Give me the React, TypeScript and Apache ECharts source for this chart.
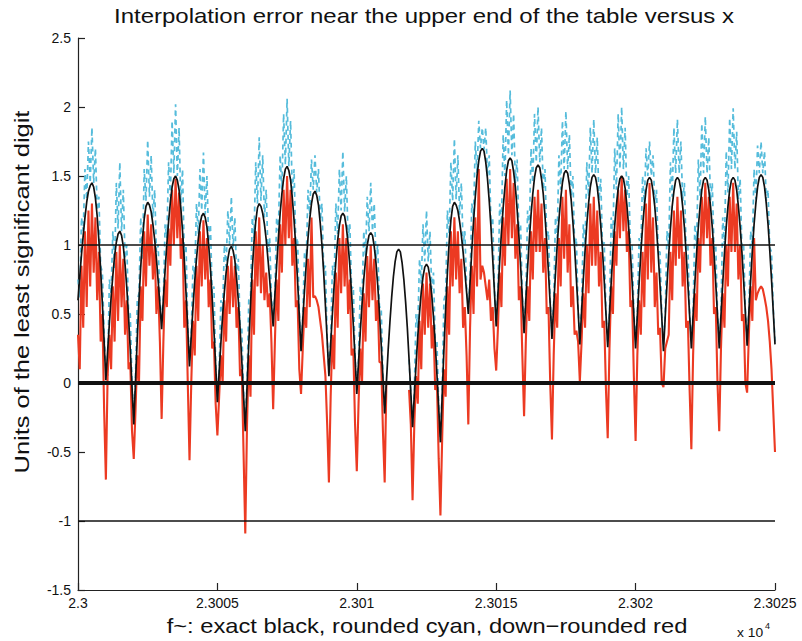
import { useEffect, useRef } from 'react';
import * as echarts from 'echarts';

const X_MIN = 2.3;
const X_MAX = 2.3025;
const X_STEP = 0.0005;
const xTickLabels = ['2.3', '2.3005', '2.301', '2.3015', '2.302', '2.3025'];
const yTicks = { min: -1.5, max: 2.5, interval: 0.5 };

const titleText = 'Interpolation error near the upper end of the table versus x';
const xLabelText = 'f~: exact black, rounded cyan, down\u2212rounded red';
const yLabelText = 'Units of the least significant digit';
const xScaleText = 'x 10';
const xScaleExp = '4';

const _ = null;

// 16 samples per period, 25 periods, last value at the right end
const blackVals = [
  .60,.77,.93,1.07,1.20,1.31,1.39,1.43,1.45,1.42,1.34,1.21,1.03,.82,.57,.30,
  .02,.23,.43,.62,.78,.92,1.02,1.08,1.10,1.07,.99,.86,.69,.48,.24,-.03,
  -.30,.01,.32,.60,.84,1.04,1.19,1.28,1.31,1.29,1.24,1.15,1.04,.90,.74,.57,
  .39,.61,.82,1.01,1.17,1.31,1.42,1.48,1.50,1.47,1.40,1.27,1.10,.89,.65,.39,
  .12,.34,.55,.74,.90,1.04,1.15,1.21,1.23,1.20,1.13,1.00,.83,.62,.38,.13,
  -.14,.08,.29,.49,.66,.80,.90,.97,.99,.96,.89,.76,.60,.40,.16,-.09,
  -.35,-.03,.28,.57,.82,1.02,1.17,1.27,1.30,1.28,1.23,1.15,1.04,.90,.75,.58,
  .41,.64,.85,1.05,1.23,1.37,1.48,1.55,1.57,1.54,1.47,1.34,1.18,.98,.74,.49,
  .23,.46,.67,.87,1.05,1.19,1.30,1.37,1.39,1.36,1.29,1.16,1.00,.80,.56,.31,
  .05,.28,.50,.71,.88,1.03,1.14,1.21,1.23,1.21,1.13,1.01,.85,.65,.42,.18,
  -.08,.15,.37,.57,.75,.89,1.00,1.07,1.09,1.07,.99,.87,.71,.51,.28,.04,
  -.22,.01,.24,.44,.62,.77,.88,.95,.97,.95,.87,.75,.59,.40,.17,-.07,
  -.32,-.09,.13,.34,.51,.66,.77,.84,.86,.84,.76,.64,.48,.29,.06,-.18,
  -.43,-.09,.24,.54,.80,1.02,1.18,1.28,1.31,1.29,1.25,1.17,1.07,.95,.81,.66,
  .50,.73,.96,1.17,1.35,1.50,1.61,1.68,1.70,1.68,1.60,1.48,1.32,1.13,.90,.66,
  .41,.65,.88,1.09,1.27,1.42,1.54,1.61,1.63,1.61,1.53,1.42,1.26,1.07,.85,.61,
  .36,.60,.83,1.04,1.22,1.37,1.49,1.56,1.58,1.56,1.48,1.37,1.21,1.02,.80,.57,
  .32,.56,.79,1.00,1.18,1.33,1.45,1.52,1.54,1.52,1.44,1.33,1.17,.98,.76,.53,
  .28,.52,.75,.96,1.15,1.30,1.42,1.49,1.51,1.49,1.42,1.30,1.14,.96,.74,.50,
  .26,.50,.73,.95,1.14,1.29,1.41,1.48,1.50,1.48,1.41,1.29,1.13,.95,.73,.49,
  .25,.49,.72,.94,1.13,1.28,1.40,1.47,1.49,1.47,1.39,1.28,1.12,.93,.71,.48,
  .23,.48,.71,.93,1.12,1.28,1.39,1.47,1.49,1.47,1.40,1.28,1.13,.94,.72,.49,
  .25,.49,.72,.94,1.13,1.28,1.40,1.47,1.49,1.47,1.40,1.28,1.13,.94,.72,.49,
  .25,.49,.72,.94,1.13,1.28,1.40,1.47,1.49,1.47,1.40,1.28,1.13,.95,.74,.51,
  .27,.51,.74,.96,1.15,1.30,1.42,1.49,1.51,1.49,1.42,1.30,1.15,.96,.75,.52,
  .28,
];

// null = coincides with the exact curve (hidden under black)
const redVals = [
  .35,.10,.85,.40,1.10,.55,1.25,.70,1.30,.80,1.20,.60,.95,.30,.50,-.20,
  -.70,.05,.35,.10,.70,.30,.95,.45,1.00,.55,.90,.35,.60,.10,.15,-.35,
  -.55,-.20,.20,.00,.70,.45,1.10,.70,1.22,.85,1.15,.75,1.00,.50,.70,.30,
  -.26,.30,.75,.55,1.12,.85,1.40,1.00,1.48,1.05,1.38,.90,1.05,.40,.60,.00,
  -.56,.00,.45,.20,.85,.45,1.10,.70,1.18,.75,1.05,.55,.75,.25,.30,-.15,
  -.38,-.10,.20,.00,.60,.30,.85,.50,.92,.55,.85,.40,.55,.05,.10,-.50,
  -1.09,-.30,.20,-.10,.75,.35,1.10,.70,1.20,.65,1.00,.60,.80,.55,.65,.30,
  -.19,.30,.75,.45,1.15,.80,1.40,1.00,1.50,1.05,1.40,.85,1.05,.55,.60,.10,
  -.08,.25,.55,.40,.90,.55,1.20,.62,.63,.60,.55,.45,.35,.20,.05,-.30,
  -.72,-.10,.35,.10,.80,.40,1.05,.65,1.15,.70,1.05,.50,.75,.20,.25,-.30,
  -.64,-.15,.25,.00,.65,.30,.92,.55,1.00,.60,.90,.45,.60,.15,.15,-.35,
  -.72,.01,_,_,_,_,_,_,_,_,_,_,_,_,-.05,-.30,
  -.85,-.30,.05,-.15,.45,.10,.72,.35,.80,.40,.72,.25,.42,-.05,.00,-.55,
  -.96,-.40,.10,-.10,.70,.35,1.10,.70,1.20,.75,1.10,.65,.90,.40,.55,.20,
  -.30,.40,.85,.50,1.20,.70,1.55,.75,.85,.80,.70,.60,.75,.45,.55,.25,
  .09,.40,.80,.55,1.20,.85,1.48,1.00,1.55,1.05,1.45,.90,1.15,.60,.70,.20,
  -.24,.30,.70,.45,1.10,.75,1.35,.95,1.40,.95,1.30,.80,1.05,.50,.55,.00,
  -.41,.20,.65,.40,1.05,.70,1.35,.90,1.40,.80,1.15,.55,.70,.35,.38,.30,
  .01,.30,.65,.40,1.00,.65,1.30,.85,1.35,.85,1.25,.70,.95,.40,.45,-.05,
  -.40,.25,.70,.50,1.10,.85,1.40,1.05,1.50,1.10,1.40,.95,1.10,.55,.60,.05,
  -.42,.20,.60,.35,.95,.55,1.30,.75,1.45,.80,1.20,.55,.80,.35,.40,.00,
  -.03,.25,.30,.35,.95,.60,1.25,.85,1.35,.90,1.25,.70,.95,.40,.45,-.05,
  -.48,.20,.65,.45,1.05,.80,1.35,1.00,1.45,1.05,1.35,.85,1.05,.50,.55,.00,
  -.35,.25,.65,.40,1.00,.70,1.35,.95,1.45,.95,1.30,.75,1.00,.45,.50,.00,
  -.07,.35,.70,.45,1.05,.60,.65,.68,.70,.68,.62,.55,.45,.30,.10,-.20,
  -.50,
];

const cyanVals = [
  .75,.62,1.20,1.10,1.55,1.33,1.75,1.45,1.85,1.45,1.70,1.25,1.35,.85,.80,.35,
  .10,.05,.75,.65,1.10,.82,1.45,1.12,1.60,1.10,1.40,.90,1.00,.52,.50,.00,
  -.25,.05,.60,.65,1.20,.90,1.55,1.32,1.76,1.35,1.65,1.20,1.40,.95,1.00,.60,
  .45,.62,1.15,1.05,1.60,1.35,1.90,1.52,2.02,1.50,1.85,1.30,1.55,.92,1.00,.42,
  .15,.36,.85,.78,1.30,1.08,1.55,1.25,1.67,1.22,1.50,1.02,1.15,.65,.70,.15,
  -.10,.10,.60,.52,1.00,.84,1.25,1.00,1.35,.98,1.20,.78,.90,.42,.40,-.07,
  -.30,.00,.60,.62,1.20,1.05,1.60,1.30,1.78,1.32,1.65,1.20,1.40,.95,1.05,.62,
  .45,.66,1.20,1.10,1.65,1.40,1.95,1.58,2.06,1.57,1.90,1.37,1.55,1.00,1.05,.52,
  .25,.48,.95,.90,1.40,1.22,1.62,1.40,1.65,1.38,1.55,1.18,1.30,.82,.85,.33,
  .08,.30,.85,.75,1.30,1.08,1.55,1.25,1.68,1.24,1.50,1.05,1.15,.68,.70,.20,
  -.05,.17,.70,.60,1.10,.92,1.35,1.10,1.45,1.10,1.30,.90,1.00,.55,.55,.06,
  -.22,.01,_,_,_,_,_,_,_,_,_,_,_,_,.17,-.07,
  -.30,-.07,.50,.40,.90,.72,1.15,.88,1.25,.88,1.10,.68,.80,.32,.30,-.16,
  -.40,-.05,.60,.65,1.25,1.08,1.60,1.32,1.77,1.33,1.65,1.22,1.45,1.00,1.10,.70,
  .55,.75,1.30,1.20,1.75,1.52,1.90,1.70,1.85,1.69,1.85,1.50,1.65,1.15,1.20,.68,
  .45,.67,1.30,1.15,1.80,1.50,2.05,1.65,2.12,1.65,1.95,1.45,1.62,1.10,1.15,.63,
  .40,.62,1.25,1.10,1.70,1.45,1.95,1.60,2.00,1.60,1.85,1.40,1.55,1.05,1.10,.60,
  .36,.58,1.20,1.05,1.65,1.40,1.90,1.55,1.97,1.55,1.80,1.35,1.50,1.00,1.05,.55,
  .32,.54,1.15,1.00,1.60,1.35,1.85,1.52,1.91,1.52,1.78,1.32,1.48,.98,1.02,.52,
  .30,.52,1.20,1.05,1.70,1.40,1.95,1.55,2.00,1.55,1.85,1.35,1.50,1.00,1.00,.51,
  .30,.51,1.05,.96,1.50,1.30,1.70,1.50,1.75,1.50,1.65,1.30,1.40,.95,.95,.50,
  .28,.50,1.10,.98,1.60,1.35,1.85,1.52,1.91,1.52,1.75,1.32,1.45,.97,1.00,.51,
  .30,.51,1.15,1.00,1.62,1.35,1.88,1.52,1.93,1.52,1.78,1.32,1.45,.97,1.00,.51,
  .30,.51,1.20,1.00,1.68,1.38,1.92,1.55,1.99,1.55,1.82,1.33,1.48,.98,1.00,.53,
  .30,.53,1.10,1.00,1.55,1.33,1.72,1.52,1.75,1.52,1.68,1.32,1.40,.98,.95,.54,
  .30,
];

const refLines = [
  { y: 1, width: 1.3 },
  { y: 0, width: 4 },
  { y: -1, width: 1.3 },
];

const FONT = 'Liberation Sans, Arial, Helvetica, sans-serif';

function toXY(vals: (number | null)[]) {
  const n = vals.length - 1;
  return vals.map((v, i) => [X_MIN + ((X_MAX - X_MIN) * i) / n, v === null ? '-' : v]);
}

export default function App() {
  const ref = useRef<HTMLDivElement>(null);

  useEffect(() => {
    if (!ref.current) return;
    const chart = echarts.init(ref.current, undefined, { renderer: 'svg' });

    const series: any[] = [
      {
        name: 'rounded',
        type: 'line',
        data: toXY(cyanVals),
        showSymbol: false,
        connectNulls: false,
        silent: true,
        z: 1,
        lineStyle: { color: '#55bcdb', width: 1.7, type: [5, 4] },
      },
      {
        name: 'down-rounded',
        type: 'line',
        data: toXY(redVals),
        showSymbol: false,
        connectNulls: false,
        silent: true,
        z: 2,
        lineStyle: { color: '#ec3a22', width: 2.1 },
      },
      {
        name: 'exact',
        type: 'line',
        data: toXY(blackVals),
        showSymbol: false,
        silent: true,
        z: 3,
        lineStyle: { color: '#111', width: 1.7 },
      },
      ...refLines.map((r) => ({
        type: 'line',
        data: [[X_MIN, r.y], [X_MAX, r.y]],
        showSymbol: false,
        silent: true,
        z: 4,
        lineStyle: { color: '#111', width: r.width },
      })),
    ];

    const axisCommon = {
      axisLine: { show: true, onZero: false, lineStyle: { color: '#222', width: 1.2 } },
      axisTick: { show: true, inside: true, length: 7, lineStyle: { color: '#222', width: 1.2 } },
      splitLine: { show: false },
    };

    chart.setOption({
      animation: false,
      backgroundColor: '#fff',
      grid: { left: 78, right: 27, top: 38, bottom: 51, containLabel: false },
      xAxis: {
        type: 'value',
        min: X_MIN,
        max: X_MAX,
        interval: X_STEP,
        ...axisCommon,
        axisLabel: {
          color: '#111',
          fontSize: 14,
          fontFamily: FONT,
          margin: 6,
          formatter: (v: number) => xTickLabels[Math.round((v - X_MIN) / X_STEP)] ?? '',
        },
      },
      yAxis: {
        type: 'value',
        min: yTicks.min,
        max: yTicks.max,
        interval: yTicks.interval,
        ...axisCommon,
        axisLabel: { color: '#111', fontSize: 14, fontFamily: FONT, margin: 7 },
      },
      series,
      graphic: [
        {
          type: 'text',
          x: 424,
          y: 16,
          scaleX: 1.2,
          style: {
            text: titleText,
            fontSize: 20,
            fontFamily: FONT,
            fill: '#111',
            textAlign: 'center',
            textVerticalAlign: 'middle',
          },
        },
        {
          type: 'text',
          x: 427,
          y: 626,
          scaleX: 1.13,
          style: {
            text: xLabelText,
            fontSize: 21,
            fontFamily: FONT,
            fill: '#111',
            textAlign: 'center',
            textVerticalAlign: 'middle',
          },
        },
        {
          type: 'text',
          x: 22,
          y: 292,
          rotation: Math.PI / 2,
          scaleX: 1.27,
          style: {
            text: yLabelText,
            fontSize: 20,
            fontFamily: FONT,
            fill: '#111',
            textAlign: 'center',
            textVerticalAlign: 'middle',
          },
        },
        {
          type: 'text',
          x: 737,
          y: 633,
          scaleX: 1.15,
          style: {
            text: xScaleText,
            fontSize: 12,
            fontFamily: FONT,
            fill: '#111',
            textAlign: 'left',
            textVerticalAlign: 'middle',
          },
        },
        {
          type: 'text',
          x: 765,
          y: 626,
          style: {
            text: xScaleExp,
            fontSize: 9,
            fontFamily: FONT,
            fill: '#111',
            textAlign: 'left',
            textVerticalAlign: 'middle',
          },
        },
      ],
    });

    return () => chart.dispose();
  }, []);

  return (
    <div
      ref={ref}
      style={{ position: 'absolute', left: 0, top: 0, width: 802, height: 641 }}
    />
  );
}
